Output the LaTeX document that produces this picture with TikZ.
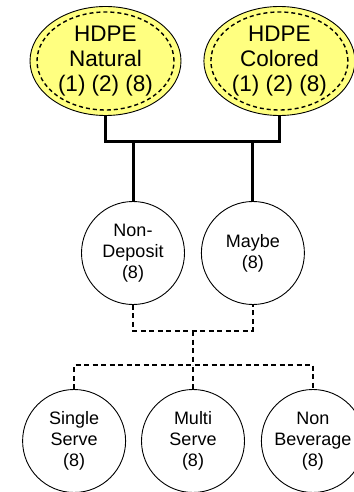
\documentclass[tikz,border=0pt]{standalone}
\usepackage{fontspec}
\setmainfont{Liberation Sans}
\usetikzlibrary{positioning, shapes.geometric}
\definecolor{hdpeyellow}{RGB}{255,255,128}

\begin{document}
\begin{tikzpicture}[
        x=1pt, y=1pt,
        resin/.style={
            ellipse,
            draw,
            fill=hdpeyellow,
            line width=0.9pt,
            minimum width=151pt,
            minimum height=109pt,
            inner sep=0pt,
            align=center,
            font=\fontsize{22.5}{25}\selectfont
        },
        resinin/.style={
            ellipse,
            draw,
            dash pattern=on 4pt off 3pt,
            line width=1.4pt,
            minimum width=137pt,
            minimum height=98pt,
            inner sep=0pt
        },
        bin/.style={
            circle,
            draw,
            line width=0.9pt,
            minimum size=103pt,
            inner sep=0pt,
            align=center,
            font=\fontsize{18}{21}\selectfont
        },
        solidlink/.style={line width=3pt},
        dashlink/.style={line width=2.3pt, dash pattern=on 5pt off 3.5pt}
    ]
        \useasboundingbox (0,0) rectangle (353,-492);

        % resin types (top row)
        \node[resin] (hn) at (105.5,-61) {HDPE\\Natural\\(1) (2) (8)};
        \node[resinin] (hnin) at (hn.center) {};
        \node[resin, right=22pt of hn] (hc) {HDPE\\Colored\\(1) (2) (8)};
        \node[resinin] (hcin) at (hc.center) {};

        % deposit status (middle row)
        \node[bin] (nd) at (133,-253) {Non-\\Deposit\\(8)};
        \node[bin, right=16pt of nd] (mb) {Maybe\\(8)};

        % container use (bottom row)
        \node[bin] (ms) at (193,-441) {Multi\\Serve\\(8)};
        \node[bin, left=15pt of ms] (ss) {Single\\Serve\\(8)};
        \node[bin, right=16pt of ms] (nb) {Non\\Beverage\\(8)};

        % joints
        \coordinate (jtop) at (193,-141);
        \coordinate (jmid) at (193,-331);
        \coordinate (jlow) at (193,-365);

        % solid links
        \draw[solidlink] (hn.south) |- (jtop) -| (hc.south);
        \draw[solidlink] (nd.north) -- (nd.north |- jtop);
        \draw[solidlink] (mb.north) -- (mb.north |- jtop);

        % dashed links
        \draw[dashlink] (nd.south) |- (jmid) -| (mb.south);
        \draw[dashlink] (jmid) -- (jlow);
        \draw[dashlink] (ss.north) |- (jlow) -| (nb.north);
        \draw[dashlink] (ms.north) -- (jlow);
    \end{tikzpicture}
\end{document}
